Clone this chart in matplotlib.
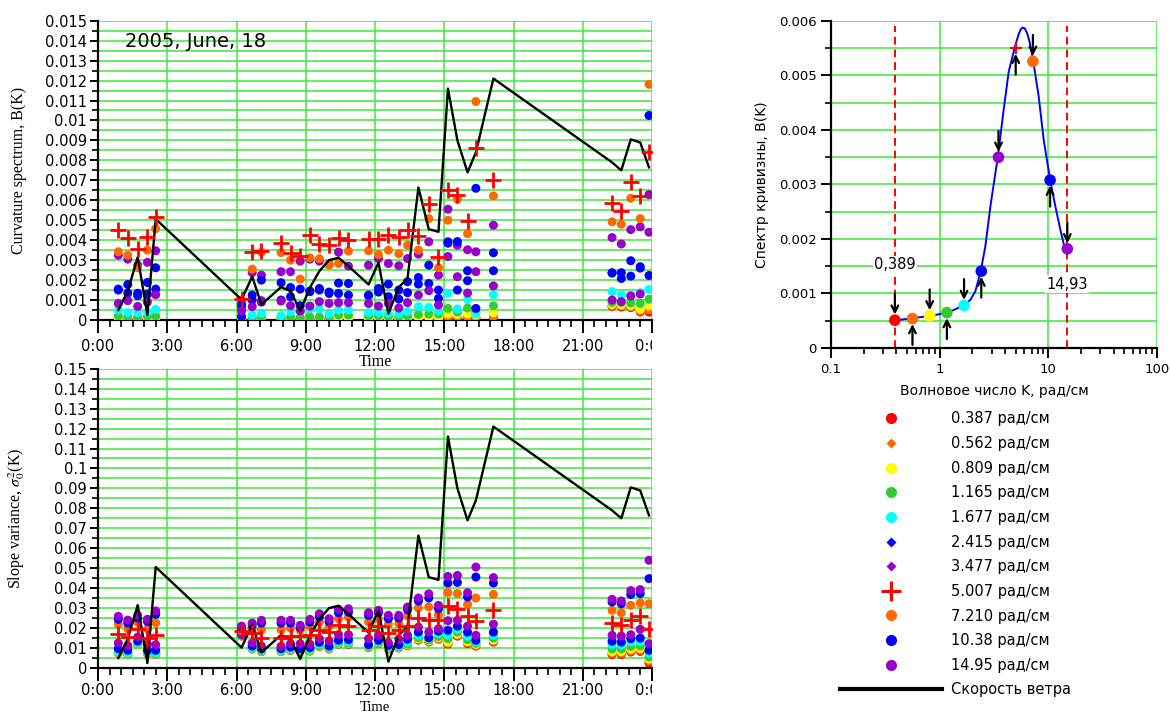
import matplotlib.pyplot as plt
import numpy as np
from matplotlib.lines import Line2D
from matplotlib.ticker import MultipleLocator, FuncFormatter, LogLocator, NullFormatter
from matplotlib.transforms import Bbox, TransformedBbox

plt.rcParams['font.family'] = ['DejaVu Sans']
plt.rcParams['mathtext.fontset'] = 'stix'

# measurement times (hours, 18 June 2005)
hours = [0.88, 1.29, 1.72, 2.14, 2.50,
         6.22, 6.68, 7.08, 7.93, 8.34, 8.76, 9.18, 9.59, 10.01, 10.42, 10.85, 11.72, 12.15,
         12.58, 13.03, 13.41, 13.88, 14.33, 14.75,
         15.16, 15.57, 16.01, 16.37, 17.13,
         22.27, 22.67, 23.08, 23.49, 23.87]

# wind speed, m/s (drawn scaled in both panels)
wind = [0.5, 1.45, 3.15, 0.25, 5.06,
        1.02, 2.18, 0.78, 1.65, 1.45, 0.45, 1.62, 2.45, 3.0, 3.12, 2.7, 1.78, 2.87,
        0.32, 1.64, 2.09, 6.64, 4.55, 4.42,
        11.6, 9.0, 7.4, 8.4, 12.1,
        7.9, 7.5, 9.05, 8.9, 7.65]
wind_scale_B = 0.001
wind_scale_S = 0.01

time_ticks = [0, 3, 6, 9, 12, 15, 18, 21, 24]
time_tick_labels = ['0:00', '3:00', '6:00', '9:00', '12:00', '15:00', '18:00', '21:00', '0:00']

wavenumbers = [0.387, 0.562, 0.809, 1.165, 1.677, 2.415, 3.477, 5.007, 7.210, 10.38, 14.95]
k_labels = ['0.387 рад/см', '0.562 рад/см', '0.809 рад/см', '1.165 рад/см', '1.677 рад/см',
            '2.415 рад/см', '3.477 рад/см', '5.007 рад/см', '7.210 рад/см', '10.38 рад/см',
            '14.95 рад/см']
k_colors = ['#ff0000', '#ff6a00', '#ffff00', '#33cc33', '#00ffff', '#0000ff', '#9900cc',
            '#ff0000', '#ff6a00', '#0000ff', '#9900cc']
k_markers = ['o', 'D', 'o', 'o', 'o', 'D', 'D', '+', 'o', 'o', 'o']

# curvature spectrum B(K), units of 1e-3
B_0387 = [0.05, 0.05, 0.05, 0.05, 0.05, 0.02, 0.03, 0.03, 0.03, 0.03, 0.03, 0.03, 0.03, 0.03, 0.03, 0.04, 0.03,
          0.03, 0.03, 0.03, 0.03, 0.04, 0.05, 0.04, 0.10, 0.10, 0.10, 0.10, 0.12, 0.67, 0.65, 0.62, 0.40, 0.40]
B_0562 = [0.07, 0.07, 0.06, 0.07, 0.08, 0.03, 0.05, 0.05, 0.05, 0.05, 0.05, 0.05, 0.05, 0.05, 0.05, 0.06, 0.05,
          0.05, 0.05, 0.05, 0.05, 0.06, 0.08, 0.06, 0.15, 0.15, 0.15, 0.15, 0.18, 0.70, 0.70, 0.66, 0.45, 0.50]
B_0809 = [0.10, 0.08, 0.08, 0.10, 0.12, 0.04, 0.07, 0.07, 0.07, 0.08, 0.08, 0.08, 0.08, 0.08, 0.10, 0.10, 0.08,
          0.08, 0.08, 0.08, 0.10, 0.12, 0.15, 0.12, 0.30, 0.28, 0.30, 0.25, 0.35, 0.78, 0.75, 0.72, 0.53, 0.70]
B_1165 = [0.20, 0.15, 0.15, 0.18, 0.20, 0.05, 0.10, 0.10, 0.12, 0.13, 0.13, 0.15, 0.15, 0.15, 0.25, 0.25, 0.20,
          0.20, 0.18, 0.18, 0.20, 0.28, 0.30, 0.30, 0.58, 0.40, 0.60, 0.40, 0.71, 0.88, 0.88, 0.85, 0.83, 1.04]
B_1677 = [0.50, 0.37, 0.37, 0.40, 0.53, 0.05, 0.25, 0.33, 0.22, 0.42, 0.42, 0.55, 0.55, 0.30, 0.50, 0.50, 0.37,
          0.37, 0.33, 0.30, 0.42, 0.67, 0.63, 0.45, 1.33, 0.55, 1.03, 0.30, 1.27, 1.42, 1.25, 1.25, 1.37, 1.53]
B_2415 = [1.50, 1.35, 1.22, 1.30, 1.55, 0.17, 1.00, 0.90, 1.00, 1.17, 0.72, 1.42, 1.50, 1.33, 1.33, 1.25, 1.22,
          1.40, 1.17, 1.05, 1.37, 1.80, 1.83, 1.08, 3.85, 1.50, 1.97, 0.58, 2.47, 2.35, 2.08, 2.20, 2.60, 2.23]
B_3477 = [3.25, 3.05, 2.75, 2.89, 3.47, 0.62, 2.38, 2.25, 2.42, 2.42, 2.95, 3.05, 2.95, 2.80, 3.40, 2.70, 2.75,
          3.08, 2.83, 2.72, 3.08, 3.30, 3.92, 2.25, 5.55, 3.75, 3.52, 3.42, 4.75, 4.13, 3.81, 4.53, 4.67, 6.28]
B_5007 = [4.53, 4.12, 3.54, 4.15, 5.17, 1.03, 3.40, 3.48, 3.87, 3.38, 3.22, 4.28, 3.83, 3.78, 4.12, 4.03, 4.04,
          4.08, 4.28, 4.14, 4.50, 4.20, 5.83, 3.17, 6.52, 6.25, 4.96, 8.60, 7.00, 5.85, 5.47, 6.92, 6.19, 8.44]
B_7210 = [3.42, 3.25, 2.62, 3.50, 4.58, 1.00, 2.55, 3.40, 3.38, 3.00, 2.05, 3.12, 3.07, 2.75, 2.83, 3.45, 3.47,
          3.28, 3.50, 3.32, 3.75, 3.50, 5.08, 2.62, 5.00, 6.05, 4.33, 10.95, 6.22, 4.92, 4.80, 6.10, 5.08, 11.81]
B_1038 = [1.55, 1.78, 1.34, 1.88, 2.62, 0.78, 1.25, 2.00, 1.87, 1.63, 1.55, 1.45, 1.58, 1.40, 1.85, 1.83, 1.25,
          1.58, 1.80, 1.50, 1.92, 2.13, 2.75, 1.50, 3.92, 3.93, 2.47, 6.60, 3.37, 2.37, 2.37, 2.97, 2.67, 10.25]
B_1495 = [0.83, 0.97, 0.68, 0.90, 1.27, 0.45, 0.67, 0.97, 0.95, 0.72, 0.45, 0.70, 0.92, 0.83, 0.87, 0.87, 0.83,
          0.70, 0.83, 0.60, 0.87, 1.25, 1.47, 0.75, 3.18, 2.17, 1.35, 2.42, 1.71, 1.00, 0.92, 1.20, 1.30, 4.40]

# slope variance, units of 1e-2
S_0387 = [0.75, 0.68, 1.18, 0.72, 0.68, 1.60, 0.95, 0.82, 0.82, 0.88, 0.85, 0.85, 1.08, 0.95, 1.20, 1.18, 1.02,
          1.22, 0.95, 1.00, 1.12, 1.40, 1.30, 1.45, 1.20, 1.60, 1.22, 1.10, 1.30, 0.67, 0.67, 0.80, 0.83, 0.25]
S_0562 = [0.77, 0.70, 1.19, 0.74, 0.70, 1.61, 0.96, 0.84, 0.84, 0.90, 0.87, 0.87, 1.10, 0.97, 1.22, 1.20, 1.04,
          1.24, 0.97, 1.02, 1.14, 1.43, 1.32, 1.48, 1.24, 1.64, 1.26, 1.14, 1.35, 0.72, 0.72, 0.85, 0.88, 0.35]
S_0809 = [0.78, 0.71, 1.20, 0.75, 0.71, 1.62, 0.97, 0.85, 0.85, 0.91, 0.88, 0.88, 1.11, 0.98, 1.24, 1.22, 1.06,
          1.26, 0.99, 1.04, 1.17, 1.47, 1.36, 1.52, 1.30, 1.70, 1.32, 1.18, 1.40, 0.82, 0.82, 0.95, 0.98, 0.45]
S_1165 = [0.80, 0.72, 1.22, 0.77, 0.72, 1.63, 0.98, 0.86, 0.86, 0.93, 0.89, 0.89, 1.13, 1.00, 1.26, 1.24, 1.08,
          1.28, 1.01, 1.06, 1.20, 1.52, 1.40, 1.58, 1.47, 1.80, 1.42, 1.24, 1.50, 0.95, 0.95, 1.08, 1.10, 0.55]
S_1677 = [0.83, 0.75, 1.25, 0.80, 0.75, 1.65, 1.00, 0.89, 0.89, 0.96, 0.92, 0.92, 1.19, 1.03, 1.30, 1.30, 1.12,
          1.32, 1.05, 1.10, 1.30, 1.64, 1.48, 1.72, 1.64, 1.94, 1.59, 1.32, 1.64, 1.17, 1.15, 1.30, 1.32, 0.75]
S_2415 = [0.97, 0.89, 1.35, 0.89, 0.89, 1.68, 1.10, 0.97, 0.97, 1.05, 0.97, 1.02, 1.29, 1.10, 1.39, 1.42, 1.17,
          1.39, 1.14, 1.17, 1.44, 1.80, 1.52, 1.85, 1.89, 2.10, 1.80, 1.39, 1.80, 1.34, 1.30, 1.47, 1.50, 0.89]
S_3477 = [1.25, 1.12, 1.55, 1.18, 1.17, 1.72, 1.25, 1.10, 1.09, 1.22, 1.22, 1.19, 1.47, 1.35, 1.67, 1.67, 1.47,
          1.64, 1.27, 1.44, 1.64, 2.05, 1.80, 1.97, 2.37, 2.39, 2.10, 1.64, 2.20, 1.64, 1.60, 1.67, 1.94, 1.22]
S_5007 = [1.70, 1.55, 1.97, 1.52, 1.67, 1.83, 1.75, 1.52, 1.52, 1.59, 1.59, 1.67, 1.92, 1.80, 2.14, 2.11, 1.89,
          2.10, 1.75, 1.89, 2.10, 2.52, 2.42, 2.39, 3.09, 2.97, 2.59, 2.34, 2.89, 2.26, 2.17, 2.39, 2.59, 1.94]
S_7210 = [2.19, 1.97, 2.29, 1.97, 2.27, 1.88, 1.97, 1.92, 1.92, 2.00, 1.89, 2.09, 2.30, 2.09, 2.47, 2.55, 2.31,
          2.47, 2.19, 2.22, 2.61, 3.01, 3.06, 2.67, 3.78, 3.73, 3.19, 3.51, 3.69, 2.89, 2.77, 3.14, 3.26, 3.22]
S_1038 = [2.44, 2.25, 2.50, 2.34, 2.69, 1.98, 2.14, 2.25, 2.25, 2.25, 2.02, 2.30, 2.56, 2.32, 2.77, 2.80, 2.64,
          2.77, 2.47, 2.50, 2.92, 3.36, 3.51, 2.97, 4.26, 4.29, 3.56, 4.56, 4.26, 3.31, 3.22, 3.68, 3.73, 4.48]
S_1495 = [2.59, 2.40, 2.64, 2.44, 2.86, 2.10, 2.25, 2.39, 2.39, 2.39, 2.14, 2.44, 2.72, 2.47, 2.94, 2.97, 2.77,
          2.89, 2.64, 2.64, 3.06, 3.51, 3.72, 3.14, 4.59, 4.64, 3.77, 5.06, 4.53, 3.44, 3.36, 3.88, 3.93, 5.40]

curvature = [B_0387, B_0562, B_0809, B_1165, B_1677, B_2415, B_3477, B_5007, B_7210, B_1038, B_1495]
slope_var = [S_0387, S_0562, S_0809, S_1165, S_1677, S_2415, S_3477, S_5007, S_7210, S_1038, S_1495]

# single spectrum (right panel)
spec_B = [0.00051, 0.00054, 0.00059, 0.00065, 0.00078, 0.00141, 0.00350, 0.00550, 0.00526, 0.00308, 0.00182]
arrow_up = [False, True, False, True, False, True, False, True, False, True, False]
curve_k = [0.391, 0.548, 0.797, 1.18, 1.66, 1.92, 2.13, 2.38, 2.63, 2.93, 3.42, 3.88, 4.32, 4.93, 5.3, 5.55,
           5.8, 6.1, 6.4, 6.75, 7.28, 8.16, 9.06, 10.4, 11.6, 12.9, 14.2, 15.4]
curve_B = [0.000507, 0.000544, 0.000586, 0.000648, 0.00078, 0.000886, 0.00104, 0.0014, 0.00186, 0.0026,
           0.00349, 0.00437, 0.00507, 0.00553, 0.00574, 0.00584, 0.00588, 0.00586, 0.00577, 0.0056,
           0.00525, 0.00461, 0.00382, 0.00308, 0.0026, 0.00217, 0.00182, 0.00174]
k_bounds = [0.389, 14.93]
bound_labels = ['0,389', '14,93']
bound_label_B = [0.00153, 0.00117]

GRID = '#3dea3d'
W, H = 1170, 720

fig = plt.figure(figsize=(W / 100, H / 100), dpi=100)
ax_b = fig.add_axes([98 / W, 400 / H, 554 / W, 299.3 / H])
ax_s = fig.add_axes([98 / W, 52 / H, 554 / W, 299.3 / H])
ax_r = fig.add_axes([831 / W, 372 / H, 326 / W, 327 / H])

fmt_g = FuncFormatter(lambda v, p: '%g' % v)


def style_time_axis(ax, ymax, ystep, ylabel, xlabel_y, xlabel_size, xpad):
    ax.set_xlim(0, 24)
    ax.set_ylim(0, ymax)
    ax.set_xticks(time_ticks)
    ax.set_xticklabels(time_tick_labels)
    ax.xaxis.set_minor_locator(MultipleLocator(0.5))
    ax.yaxis.set_major_locator(MultipleLocator(ystep))
    ax.yaxis.set_minor_locator(MultipleLocator(ystep / 2))
    ax.yaxis.set_major_formatter(fmt_g)
    for s in ('top', 'right'):
        ax.spines[s].set_visible(False)
    for s in ('left', 'bottom'):
        ax.spines[s].set_linewidth(1.6)
    ax.tick_params(axis='x', which='major', length=9.5, width=1.4, labelsize=10.5, pad=xpad)
    ax.tick_params(axis='x', which='minor', length=5, width=1.2)
    ax.tick_params(axis='y', which='major', length=6, width=1.4, labelsize=10.5, pad=2)
    ax.tick_params(axis='y', which='minor', length=4, width=1.2)
    ax.grid(True, axis='x', which='major', color=GRID, lw=1.1)
    ax.grid(True, axis='y', which='both', color=GRID, lw=1.1)
    ax.set_axisbelow(True)
    ax.set_xlabel('Time', family='Liberation Serif', fontsize=xlabel_size, va='top')
    ax.xaxis.set_label_coords(0.5, xlabel_y)
    ax.set_ylabel(ylabel, family='Liberation Serif', fontsize=11.5)
    ax.yaxis.set_label_coords(-0.128, 0.5)
    # last "0:00" label is cut by the panel edge in the original
    lbl = ax.xaxis.get_major_ticks()[-1].label1
    lbl.set_clip_box(TransformedBbox(Bbox([[0, 0], [652 / W, 1]]), fig.transFigure))
    lbl.set_clip_on(True)


def draw_series(ax, series, unit, wscale):
    for i, vals in enumerate(series):
        y = np.array(vals) * unit
        if k_markers[i] == '+':
            continue
        ax.scatter(hours, y, s=42, color=k_colors[i], edgecolors='none', zorder=3)
    ax.plot(hours, np.array(wind) * wscale, color='black', lw=1.7, zorder=4)
    ax.plot(hours, np.array(series[7]) * unit, ls='none', marker='+', ms=11, mew=2,
            color=k_colors[7], zorder=5)


draw_series(ax_b, curvature, 1e-3, wind_scale_B)
style_time_axis(ax_b, 0.015, 0.001, 'Curvature spectrum, B(K)', -0.112, 11.5, 4)
ax_b.text(0.049, 0.929, '2005, June, 18', transform=ax_b.transAxes, fontsize=14, va='center')

draw_series(ax_s, slope_var, 1e-2, wind_scale_S)
style_time_axis(ax_s, 0.15, 0.01, r'Slope variance, $\sigma_0^2$(K)', -0.110, 10.5, 1.5)

# right panel: one spectrum vs wavenumber
ax_r.set_xscale('log')
ax_r.set_xlim(0.1, 100)
ax_r.set_ylim(0, 0.006)
ax_r.plot(curve_k, curve_B, color='#0000ff', lw=1.4, zorder=3)
for k in k_bounds:
    ax_r.axvline(k, ymax=0.985, color='red', ls=(0, (4, 2.5)), lw=1.4, zorder=2)
for i, k in enumerate(wavenumbers):
    if k_markers[i] == '+':
        ax_r.plot(k, spec_B[i], marker='+', ms=9, mew=1.6, color=k_colors[i], zorder=5)
    else:
        ax_r.scatter(k, spec_B[i], s=70, color=k_colors[i], edgecolors='none', zorder=5)
    off = -19 if arrow_up[i] else 19
    ax_r.annotate('', xy=(k, spec_B[i]), xytext=(0, off), textcoords='offset points',
                  arrowprops=dict(arrowstyle='->', color='black', lw=1.6, shrinkA=0, shrinkB=4,
                                  mutation_scale=12), zorder=6)
for k, lab, yb in zip(k_bounds, bound_labels, bound_label_B):
    ax_r.text(k, yb, lab, ha='center', va='center', fontsize=10.5, zorder=4,
              bbox=dict(facecolor='white', edgecolor='none', pad=1))

ax_r.xaxis.set_major_locator(LogLocator(base=10, numticks=10))
ax_r.xaxis.set_minor_locator(LogLocator(base=10, subs=np.arange(2, 10), numticks=10))
ax_r.xaxis.set_major_formatter(fmt_g)
ax_r.xaxis.set_minor_formatter(NullFormatter())
ax_r.yaxis.set_major_locator(MultipleLocator(0.001))
ax_r.yaxis.set_minor_locator(MultipleLocator(0.0005))
ax_r.yaxis.set_major_formatter(fmt_g)
for s in ('top', 'right'):
    ax_r.spines[s].set_visible(False)
for s in ('left', 'bottom'):
    ax_r.spines[s].set_linewidth(1.6)
ax_r.tick_params(which='major', length=7, width=1.4, labelsize=9.5)
ax_r.tick_params(which='minor', length=4, width=1.2)
ax_r.grid(True, axis='x', which='major', color=GRID, lw=1.1)
ax_r.grid(True, axis='y', which='both', color=GRID, lw=1.1)
ax_r.set_axisbelow(True)
ax_r.set_ylabel('Спектр кривизны, B(K)', fontsize=10)
ax_r.yaxis.set_label_coords(-0.19, 0.5)
ax_r.set_xlabel('Волновое число K, рад/см', fontsize=10, va='top')
ax_r.xaxis.set_label_coords(0.5, -0.11)

handles = []
for i in range(len(wavenumbers)):
    if k_markers[i] == '+':
        handles.append(Line2D([], [], ls='none', marker='+', ms=15, mew=2.2, color=k_colors[i]))
    elif k_markers[i] == 'D':
        handles.append(Line2D([], [], ls='none', marker='D', ms=5.5, color=k_colors[i], mec='none'))
    else:
        handles.append(Line2D([], [], ls='none', marker='o', ms=8, color=k_colors[i], mec='none'))
handles.append(Line2D([], [], color='black', lw=3))
fig.legend(handles, k_labels + ['Скорость ветра'], loc='upper left',
           bbox_to_anchor=(840 / W, (H - 411.5) / H), frameon=False, fontsize=10.5,
           handlelength=7.0, handletextpad=0.62, labelspacing=0.66, borderpad=0,
           borderaxespad=0, numpoints=1)

fig.savefig('out.png', dpi=100)
